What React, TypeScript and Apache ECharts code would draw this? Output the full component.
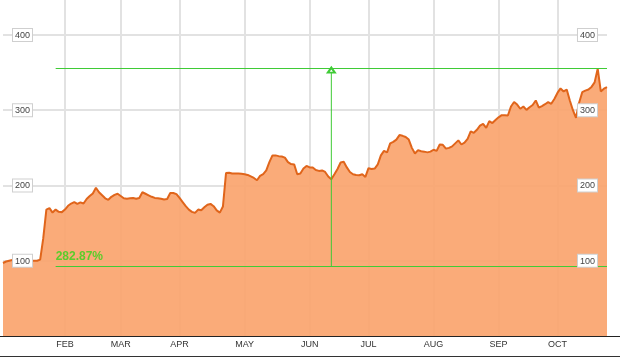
import React, { useEffect, useRef } from "react";
import * as echarts from "echarts";

// Month labels and the trading-day index where each month starts
const monthLabels = ["FEB", "MAR", "APR", "MAY", "JUN", "JUL", "AUG", "SEP", "OCT"];
const monthStarts = [20, 38, 57, 78, 99, 118, 139, 160, 179];

// Daily closing values (one per trading day)
const prices = [
  97, 99, 100, 101, 101, 100, 101, 101, 100, 100,
  100, 100, 101.5, 130, 168, 170, 164, 168, 165, 164.6,
  168, 173, 176, 178, 175.5, 177.5, 176, 182, 186, 189.5,
  197, 191, 187, 183, 181, 185, 187.5, 189, 186, 183,
  182.5, 183, 183.5, 182.5, 183.5, 191, 189, 187, 185, 183.5,
  183, 182.4, 181.5, 182, 190, 190, 188.5, 183.5, 178, 172.5,
  168, 165, 163.6, 168, 167, 171, 174.5, 175.5, 172.5, 167,
  164, 172, 216.5, 217, 216, 216, 216, 215.5, 215, 214,
  212, 210, 207, 212.7, 215, 220, 231, 240, 240, 239,
  238.5, 237, 231, 228.5, 228, 215, 216, 222.5, 226, 224,
  223.8, 220.5, 219.4, 220, 218, 212, 208.3, 215, 222, 230.5,
  231.5, 224, 218, 215, 214, 213.6, 215, 211.4, 223, 222,
  222.5, 228, 240, 246, 244, 256, 258, 261, 267, 266,
  264.5, 261, 250, 242.5, 247, 245.5, 245, 244, 245, 247.5,
  246, 254.5, 254, 249, 250, 252, 256, 260, 254.5, 257,
  262, 272, 270, 274, 279.5, 281.8, 276.5, 285.5, 283, 287,
  290.6, 293.5, 293.5, 293, 305, 311, 307.5, 302, 304.9, 300.5,
  304, 307, 313, 303.5, 305.5, 308, 310.7, 308.6, 315, 323,
  329, 325, 327.5, 313, 300, 290, 310, 324, 326, 327.5,
  331, 337, 355.3, 325, 328.6, 330.7,
];

// Measurement tool: low/high levels, range and where it is drawn
const measureLow = 92.8;
const measureHigh = 355.3;
const measureStartDay = 17;
const measureEndDay = 195;
const measureArrowDay = 106;
const measureLabel = "282.87%";

// Y axis range and tick step
const yMin = 0;
const yMax = 446.5;
const yInterval = 100;

const categories = prices.map((_, i) => {
  const k = monthStarts.indexOf(i);
  return k >= 0 ? monthLabels[k] : "";
});
const isMonthStart = (i: number) => monthStarts.indexOf(i) >= 0;

const FONT = "Arial, 'Liberation Sans', sans-serif";
const GREEN = "#3fcb36";

export default function App() {
  const ref = useRef<HTMLDivElement>(null);
  useEffect(() => {
    if (!ref.current) return;
    const chart = echarts.init(ref.current, null, { renderer: "svg" });
    const yLabel = {
      show: true,
      inside: true,
      margin: 10,
      fontSize: 9,
      fontFamily: FONT,
      color: "#444",
      backgroundColor: "#fff",
      borderColor: "#cfcfcf",
      borderWidth: 1,
      padding: [2, 2, 1, 2],
      showMinLabel: false,
      showMaxLabel: false,
    };
    const baseY = {
      type: "value",
      min: yMin,
      max: yMax,
      interval: yInterval,
      axisLine: { show: false },
      axisTick: { show: false },
    };
    const greenLine = { color: GREEN, width: 1, type: "solid", opacity: 1 };
    chart.setOption({
      animation: false,
      grid: { left: 3, right: 13, top: 0, bottom: 21, containLabel: false },
      xAxis: {
        type: "category",
        data: categories,
        boundaryGap: false,
        axisLine: { show: false },
        axisTick: { show: false },
        axisLabel: {
          interval: (i: number) => isMonthStart(i),
          margin: 3,
          fontSize: 9,
          fontFamily: FONT,
          color: "#333",
        },
        splitLine: {
          show: true,
          interval: (i: number) => isMonthStart(i),
          lineStyle: { color: "#e2e2e2", width: 2 },
        },
      },
      yAxis: [
        {
          ...baseY,
          position: "left",
          splitLine: { show: true, showMinLine: false, showMaxLine: false, lineStyle: { color: "#e2e2e2", width: 2 } },
          axisLabel: { show: false },
        },
        {
          ...baseY,
          position: "left",
          z: 5,
          splitLine: { show: false },
          axisLabel: yLabel,
        },
        {
          ...baseY,
          position: "right",
          z: 5,
          splitLine: { show: false },
          axisLabel: yLabel,
        },
      ],
      series: [
        {
          type: "line",
          yAxisIndex: 0,
          data: prices,
          symbol: "none",
          smooth: false,
          lineStyle: { color: "#e0651b", width: 2 },
          areaStyle: { color: "#faa46e", opacity: 0.92 },
          markLine: {
            silent: true,
            symbol: "none",
            animation: false,
            lineStyle: greenLine,
            label: { show: false },
            data: [
              [
                { coord: [measureStartDay, measureHigh], lineStyle: greenLine },
                { coord: [measureEndDay, measureHigh], lineStyle: greenLine },
              ],
              [
                {
                  coord: [measureStartDay, measureLow],
                  lineStyle: greenLine,
                  label: {
                    show: true,
                    formatter: measureLabel,
                    position: "insideStartTop",
                    distance: [0, 4],
                    color: "#5ccc2c",
                    fontSize: 12,
                    fontWeight: "bold",
                    fontFamily: FONT,
                  },
                },
                { coord: [measureEndDay, measureLow], lineStyle: greenLine },
              ],
            ],
          },
        },
        {
          type: "line",
          yAxisIndex: 0,
          z: 4,
          silent: true,
          data: [
            { value: [measureArrowDay, measureLow], symbol: "none" },
            { value: [measureArrowDay, measureHigh], symbol: "emptyTriangle", symbolSize: [7, 5], symbolOffset: [0, 1.5] },
          ],
          showSymbol: true,
          showAllSymbol: true,
          lineStyle: { color: GREEN, width: 1 },
          itemStyle: { color: GREEN, borderWidth: 1 },
        },
      ],
      graphic: [
        { type: "line", shape: { x1: 0, y1: 336.5, x2: 620, y2: 336.5 }, style: { stroke: "#222", lineWidth: 1 }, z: 100 },
        { type: "line", shape: { x1: 0, y1: 356.5, x2: 620, y2: 356.5 }, style: { stroke: "#333", lineWidth: 1 }, z: 100 },
      ],
    });
    return () => chart.dispose();
  }, []);
  return <div ref={ref} style={{ position: "fixed", left: 0, top: 0, width: 620, height: 357 }} />;
}
